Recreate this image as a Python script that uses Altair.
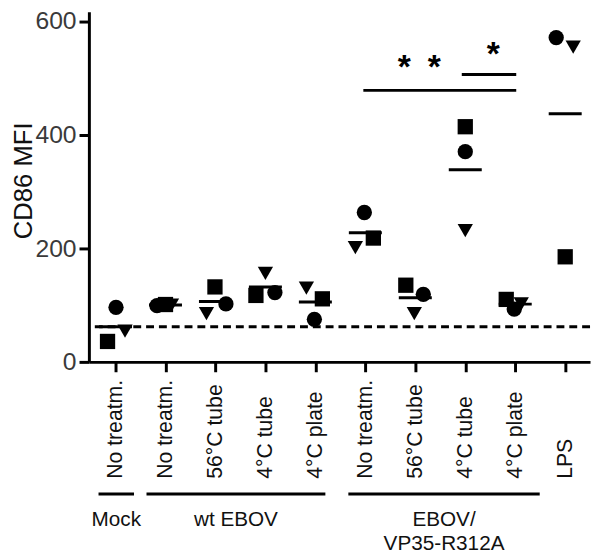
import json
import altair as alt
import pandas as pd

# ---- data ----
labels = ["No treatm.", "No treatm.", "56°C tube", "4°C tube", "4°C plate",
          "No treatm.", "56°C tube", "4°C tube", "4°C plate", "LPS"]
circle = [96, 99, 102, 122, 75, 263, 119, 370, 93, 571]
square = [36, 101, 132, 117, 111, 218, 135, 414, 110, 185]
triangle = [54, 100, 85, 156, 130, 201, 85, 231, 102, 554]

# horizontal scatter of each donor inside its column (fraction of a column)
jit_circle = [0.01, -0.17, 0.21, 0.19, -0.02, -0.02, 0.16, 0.0, -0.02, -0.18]
jit_square = [-0.16, 0.0, -0.01, -0.19, 0.14, 0.16, -0.19, 0.0, -0.18, 0.0]
jit_triangle = [0.19, 0.12, -0.18, 0.0, -0.18, -0.2, -0.02, 0.0, 0.12, 0.16]

groups = ["Mock", "wt EBOV", "EBOV/\nVP35-R312A"]
group_first = [0, 1, 5]
group_last = [0, 4, 8]
group_pad_left = [0.34, 0.38, 0.34]
group_pad_right = [0.37, 0.20, 0.49]

sig_from = [4.96, 6.93]
sig_to = [8.02, 8.02]
sig_level = [478, 506]
star_x = [5.78, 6.38, 7.56]
star_y = [518, 518, 542]

# ---- tables ----
rows = []
for shape, vals, jit in (("circle", circle, jit_circle),
                         ("square", square, jit_square),
                         ("triangle", triangle, jit_triangle)):
    for i, (v, j) in enumerate(zip(vals, jit)):
        rows.append({"idx": i, "value": v, "donor": shape, "jit": j})
pts = pd.DataFrame(rows)

grp = pd.DataFrame({"group": groups, "first": group_first, "last": group_last,
                    "pl": group_pad_left, "pr": group_pad_right})
sig = pd.DataFrame({"x1": sig_from, "x2": sig_to, "y": sig_level})
stars = pd.DataFrame({"x": star_x, "y": star_y})

FONT = "Liberation Sans"
W, H = 508, 355
xscale = alt.Scale(domain=[-0.533, 9.497], nice=False, zero=False)
yscale = alt.Scale(domain=[0, 616.5], nice=False)

label_expr = json.dumps(labels, ensure_ascii=False) + "[datum.value]"

xaxis = alt.Axis(values=list(range(10)), labelExpr=label_expr, title=None,
                 labelAngle=-90, labelAlign="left", labelBaseline="middle",
                 labelPadding=108, labelFontSize=21.5, labelColor="#111",
                 labelOverlap=False, labelBound=False, labelFlush=False,
                 tickSize=10, tickWidth=3, tickColor="black",
                 domainWidth=3, domainColor="black", grid=False)
yaxis = alt.Axis(values=[0, 200, 400, 600], format="d", title="CD86 MFI",
                 labelFontSize=25, labelColor="#3a3a3a", labelPadding=3,
                 tickSize=10, tickWidth=3, tickColor="black",
                 domainWidth=3, domainColor="black", grid=False,
                 titleFontSize=26, titleFontWeight="normal", titleColor="#111",
                 titleAngle=270, titleBaseline="alphabetic", titleAlign="center",
                 titleX=-58.5, titleY=171)


def X(field):
    return alt.X(field, scale=xscale, axis=xaxis)


def Y(field):
    return alt.Y(field, scale=yscale, axis=yaxis)


base_pts = alt.Chart(pts)

points = base_pts.transform_calculate(
    xpos="datum.idx + datum.jit"
).mark_point(filled=True, color="black", size=240, opacity=1).encode(
    x=X("xpos:Q"),
    y=Y("value:Q"),
    shape=alt.Shape("donor:N",
                    scale=alt.Scale(domain=["circle", "square", "triangle"],
                                    range=["circle", "square", "triangle-down"]),
                    legend=None),
)

means = base_pts.transform_aggregate(
    mean="mean(value)", groupby=["idx"]
).transform_calculate(
    xa="datum.idx - 0.33", xb="datum.idx + 0.33"
).mark_rule(color="black", strokeWidth=3).encode(
    x=X("xa:Q"), x2="xb:Q", y=Y("mean:Q"),
)

baseline = base_pts.transform_filter("datum.idx == 0").transform_aggregate(
    base="mean(value)"
).mark_rule(color="black", strokeWidth=3, strokeDash=[8, 5]).encode(
    y=Y("base:Q"),
)

sig_rules = alt.Chart(sig).mark_rule(color="black", strokeWidth=3).encode(
    x=X("x1:Q"), x2="x2:Q", y=Y("y:Q"),
)

star_text = alt.Chart(stars).mark_text(
    text="*", fontSize=34, fontWeight="bold", font=FONT, color="black",
    baseline="middle", dy=1
).encode(
    x=X("x:Q"), y=Y("y:Q"),
)

gbase = alt.Chart(grp).transform_calculate(
    ga="datum.first - datum.pl", gb="datum.last + datum.pr",
    gc="(datum.first - datum.pl + datum.last + datum.pr) / 2"
)
group_bars = gbase.mark_rule(color="black", strokeWidth=3).encode(
    x=X("ga:Q"), x2="gb:Q", y=alt.value(489),
)
group_text = gbase.mark_text(
    fontSize=21, font=FONT, color="#111", baseline="alphabetic",
    align="center", lineBreak="\n", lineHeight=25
).encode(
    x=X("gc:Q"), y=alt.value(521), text="group:N",
)

chart = alt.layer(
    points, means, baseline, sig_rules, star_text, group_bars, group_text
).properties(
    width=W, height=H,
    autosize=alt.AutoSizeParams(type="none"),
    padding={"left": 82, "top": 0, "right": 2, "bottom": 191},
).configure_view(stroke=None).configure_axis(
    labelFont=FONT, titleFont=FONT
)

chart.save("out.html", embed_options={"renderer": "svg", "actions": False})
